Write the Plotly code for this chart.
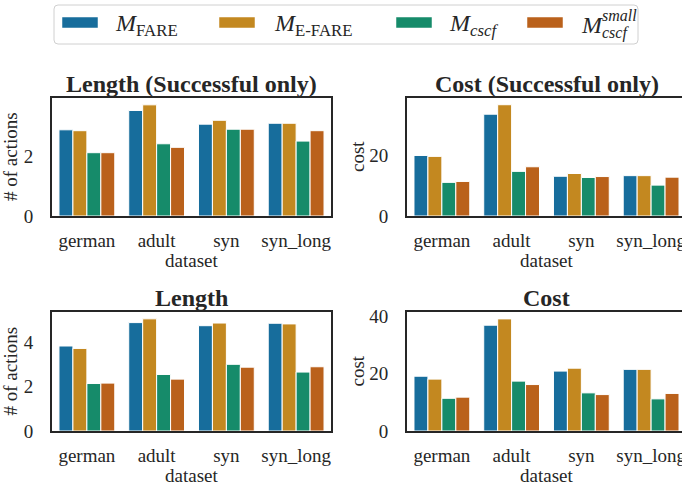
import plotly.graph_objects as go

categories = ["german", "adult", "syn", "syn_long"]
series_names = ["FARE", "E-FARE", "cscf", "cscf_small"]
colors = ["#176d9c", "#c38820", "#168b6a", "#ba611b"]

# Length (Successful only)
len_succ = {
    "FARE": [2.90, 3.55, 3.09, 3.12],
    "E-FARE": [2.87, 3.74, 3.22, 3.12],
    "cscf": [2.13, 2.43, 2.92, 2.52],
    "cscf_small": [2.13, 2.31, 2.92, 2.87],
}
# Cost (Successful only)
cost_succ = {
    "FARE": [19.8, 33.3, 13.0, 13.2],
    "E-FARE": [19.5, 36.4, 13.9, 13.2],
    "cscf": [11.0, 14.6, 12.6, 10.1],
    "cscf_small": [11.3, 16.1, 12.9, 12.7],
}
# Length
len_all = {
    "FARE": [3.85, 4.91, 4.77, 4.88],
    "E-FARE": [3.74, 5.08, 4.89, 4.85],
    "cscf": [2.15, 2.56, 3.02, 2.67],
    "cscf_small": [2.17, 2.35, 2.89, 2.91],
}
# Cost
cost_all = {
    "FARE": [19.1, 36.9, 20.9, 21.5],
    "E-FARE": [18.1, 39.1, 21.9, 21.5],
    "cscf": [11.4, 17.4, 13.3, 11.2],
    "cscf_small": [11.8, 16.2, 12.7, 13.1],
}

W, H = 682, 486
FONT = "Liberation Serif"
AX = "#262626"

def px(x):
    return x / W

def py(y):
    return 1 - y / H

panels = [
    (len_succ, "x", "y", 52, 331, 98, 216, 3.97, 2, "Length (Successful only)", "# of actions", 3.5),
    (cost_succ, "x2", "y2", 407, 682, 98, 216, 38.6, 20, "Cost (Successful only)", "cost", 3.443),
    (len_all, "x3", "y3", 52, 331, 312, 431, 5.39, 2, "Length", "# of actions", 3.5),
    (cost_all, "x4", "y4", 407, 682, 312, 431, 41.5, 20, "Cost", "cost", 3.443),
]

fig = go.Figure()
layout = dict(
    template="none",
    width=W, height=H, margin=dict(l=0, r=0, t=0, b=0),
    paper_bgcolor="white", plot_bgcolor="white",
    barmode="group", bargap=0.2, bargroupgap=0,
    showlegend=False,
    font=dict(family=FONT, size=19, color="#262626"),
)
annotations = []
shapes = []

for i, (data, xa, ya, x0, x1, y0, y1, ymax, dt, title, ylab, xmax) in enumerate(panels):
    for s, c in zip(series_names, colors):
        fig.add_trace(go.Bar(
            x=categories, y=data[s], name=s, xaxis=xa, yaxis=ya,
            marker=dict(color=c, line=dict(color="white", width=1)),
        ))
    xkey = "xaxis" + ("" if xa == "x" else xa[1:])
    ykey = "yaxis" + ("" if ya == "y" else ya[1:])
    right_col = x1 >= W
    layout[xkey] = dict(
        domain=[px(x0), min(px(x1), 1.0)], anchor=ya, type="category", automargin=False,
        range=[-0.5, xmax], showline=True, mirror=True, linecolor=AX, linewidth=2,
        showgrid=False, zeroline=False, ticks="outside", ticklen=6,
        tickcolor="rgba(0,0,0,0)", tickfont=dict(family=FONT, size=19, color="#262626"),
    )
    layout[ykey] = dict(
        domain=[py(y1), py(y0)], anchor=xa, range=[0, ymax], dtick=dt, tick0=0, automargin=False,
        showline=True, mirror=not right_col, linecolor=AX, linewidth=2,
        showgrid=False, zeroline=False, ticks="outside", ticklen=13,
        tickcolor="rgba(0,0,0,0)", tickfont=dict(family=FONT, size=19, color="#262626"),
    )
    cx = (x0 + (x1 if not right_col else 686)) / 2
    annotations.append(dict(
        text="<b>%s</b>" % title, x=px(cx), y=py(y0 - 14), xref="paper", yref="paper",
        showarrow=False, xanchor="center", yanchor="middle",
        font=dict(family=FONT, size=24, color="#262626"),
    ))
    annotations.append(dict(
        text="dataset", x=px(cx), y=py(y1 + 44), xref="paper", yref="paper",
        showarrow=False, xanchor="center", yanchor="middle",
        font=dict(family=FONT, size=19, color="#262626"),
    ))
    lx = 10 if not right_col else 357
    annotations.append(dict(
        text=ylab, x=px(lx), y=py((y0 + y1) / 2), xref="paper", yref="paper",
        showarrow=False, xanchor="center", yanchor="middle", textangle=-90,
        font=dict(family=FONT, size=19, color="#262626"),
    ))

# custom legend
bx0, bx1, by0, by1, r = 54, 638, 5, 44, 4
path = (f"M {px(bx0+r)},{py(by0)} L {px(bx1-r)},{py(by0)} Q {px(bx1)},{py(by0)} {px(bx1)},{py(by0+r)} "
        f"L {px(bx1)},{py(by1-r)} Q {px(bx1)},{py(by1)} {px(bx1-r)},{py(by1)} "
        f"L {px(bx0+r)},{py(by1)} Q {px(bx0)},{py(by1)} {px(bx0)},{py(by1-r)} "
        f"L {px(bx0)},{py(by0+r)} Q {px(bx0)},{py(by0)} {px(bx0+r)},{py(by0)} Z")
shapes.append(dict(type="path", path=path, xref="paper", yref="paper",
                   line=dict(color="#d0d0d0", width=1), fillcolor="white"))

swatch_x = [62, 219, 396, 527]
text_x = [113, 272, 447, 579]
labels = ["<i>M</i><sub>FARE</sub>", "<i>M</i><sub>E-FARE</sub>", "<i>M</i><sub><i>cscf</i></sub>", "<i>M</i>"]
for sx, tx, lab, c in zip(swatch_x, text_x, labels, colors):
    shapes.append(dict(type="rect", xref="paper", yref="paper",
                       x0=px(sx), x1=px(sx + 36), y0=py(28), y1=py(17),
                       fillcolor=c, line=dict(color="white", width=0.5)))
    annotations.append(dict(text=lab, x=px(tx), y=py(25), xref="paper", yref="paper",
                            showarrow=False, xanchor="left", yanchor="middle",
                            font=dict(family=FONT, size=24, color="#262626")))
annotations.append(dict(text="<i>small</i>", x=px(600), y=py(15), xref="paper", yref="paper",
                        showarrow=False, xanchor="left", yanchor="middle",
                        font=dict(family=FONT, size=16, color="#262626")))
annotations.append(dict(text="<i>cscf</i>", x=px(600), y=py(33), xref="paper", yref="paper",
                        showarrow=False, xanchor="left", yanchor="middle",
                        font=dict(family=FONT, size=16, color="#262626")))

layout["annotations"] = annotations
layout["shapes"] = shapes
fig.update_layout(**layout)
fig.write_html("out.html", config={"displayModeBar": False},
               post_script="document.body.style.margin='0px';document.body.style.overflow='hidden';")
